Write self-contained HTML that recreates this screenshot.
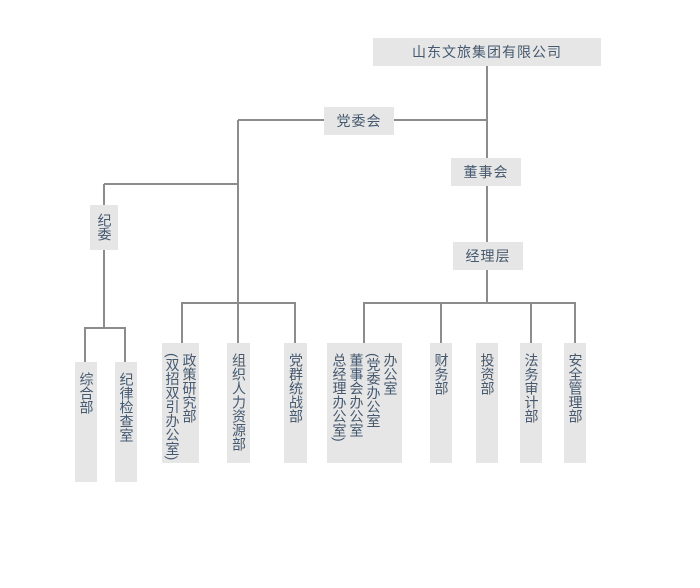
<!DOCTYPE html>
<html><head><meta charset="utf-8"><style>
body{margin:0;width:700px;height:588px;background:#fff;position:relative;overflow:hidden;font-family:"Liberation Sans","Noto Sans CJK SC",sans-serif;color:#45586e;}
.b{position:absolute;background:#e6e6e6;font-size:14px;}
.h{display:flex;align-items:center;justify-content:center;letter-spacing:1px;}
.v{writing-mode:vertical-rl;text-orientation:mixed;font-size:14px;line-height:17px;box-sizing:border-box;padding-top:10px;display:flex;align-items:center;white-space:nowrap;}
svg{position:absolute;left:0;top:0;}
</style></head><body>
<svg width="700" height="588"><g stroke="#8c8c8c" stroke-width="2" fill="none">
<path d="M487 66V303"/>
<path d="M238 120H487"/>
<path d="M238 120V303"/>
<path d="M104 184H238"/>
<path d="M104 184V328"/>
<path d="M85 362V328H125V362"/>
<path d="M182 343V303H295V343"/>
<path d="M238 303V343"/>
<path d="M364 343V303H575V343"/>
<path d="M441 303V343M531 303V343"/>
</g></svg>
<div class="b h" style="left:373px;top:38px;width:228px;height:28px">山东文旅集团有限公司</div>
<div class="b h" style="left:324px;top:107px;width:70px;height:28px">党委会</div>
<div class="b h" style="left:451px;top:158px;width:70px;height:28px">董事会</div>
<div class="b h" style="left:453px;top:242px;width:70px;height:28px">经理层</div>
<div class="b v" style="left:90px;top:205px;width:28px;height:45px;padding-top:8px">纪委</div>
<div class="b v" style="left:75px;top:362px;width:22px;height:120px">综合部</div>
<div class="b v" style="left:115px;top:362px;width:22px;height:120px">纪律检查室</div>
<div class="b v" style="left:162px;top:343px;width:37px;height:120px">政策研究部<br>(双招双引办公室)</div>
<div class="b v" style="left:227px;top:343px;width:23px;height:120px">组织人力资源部</div>
<div class="b v" style="left:284px;top:343px;width:23px;height:120px">党群统战部</div>
<div class="b v" style="left:327px;top:343px;width:75px;height:120px">办公室<br>(党委办公室<br>董事会办公室<br>总经理办公室)</div>
<div class="b v" style="left:430px;top:343px;width:22px;height:120px">财务部</div>
<div class="b v" style="left:476px;top:343px;width:22px;height:120px">投资部</div>
<div class="b v" style="left:520px;top:343px;width:22px;height:120px">法务审计部</div>
<div class="b v" style="left:564px;top:343px;width:22px;height:120px">安全管理部</div>
</body></html>
